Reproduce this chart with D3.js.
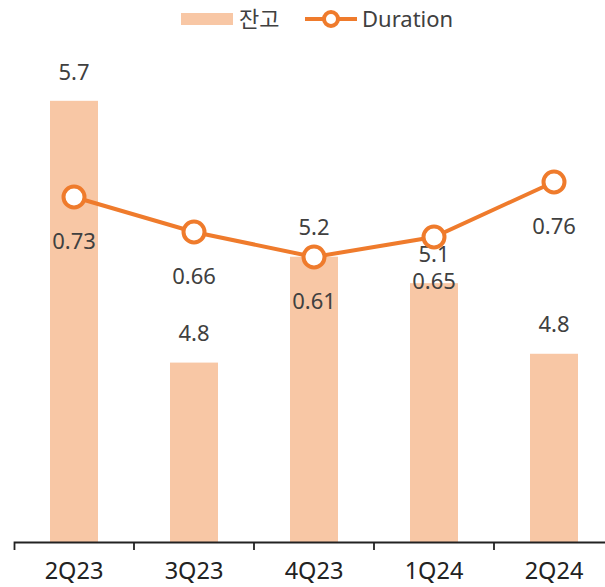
<!DOCTYPE html>
<html>
<head>
<meta charset="utf-8">
<script src="https://cdn.jsdelivr.net/npm/d3@7"></script>
<style>
  body { margin: 0; background: #fff; }
  text { font-family: "Noto Sans", "Noto Sans CJK KR", sans-serif; fill: #404040; }
</style>
</head>
<body>
<div id="chart"></div>
<script>
// Daten
const categories = ["2Q23", "3Q23", "4Q23", "1Q24", "2Q24"]
const balance = [5.70, 4.81, 5.17, 5.08, 4.84]      // 잔고
const duration = [0.73, 0.66, 0.61, 0.65, 0.76]     // Duration

const width = 605
const height = 587
const margin = {top: 42, right: -9, bottom: 45, left: 14}
const barColor = "#f8c7a5"
const lineColor = "#ef7b2c"

const data = categories.map(function (c, i) {
    return {name: c, bal: balance[i], dur: duration[i]}
})

let svg = d3.select("#chart")
    .append("svg")
    .attr("width", width)
    .attr("height", height)

const baseY = height - margin.bottom

var x = d3.scaleBand()
    .range([margin.left, width - margin.right])
    .paddingInner(0.6)
    .paddingOuter(0.3)
    .domain(categories)

var yBar = d3.scaleLinear()
    .range([baseY, margin.top])
    .domain([4.2, 5.9])

var yLine = d3.scaleLinear()
    .range([baseY, margin.top])
    .domain([0.04, 1.04])

// Balken
svg.selectAll(".bar")
    .data(data)
    .enter().append("rect")
    .attr("class", "bar")
    .attr("x", function (d) { return x(d.name) })
    .attr("y", function (d) { return yBar(d.bal) })
    .attr("width", x.bandwidth())
    .attr("height", function (d) { return baseY - yBar(d.bal) })
    .attr("fill", barColor)

// Achse
var axis = svg.append("g")
    .attr("transform", "translate(0," + baseY + ")")
    .call(d3.axisBottom(x).tickSize(0).tickSizeOuter(8).tickPadding(20))
axis.select(".domain").attr("stroke", "#222").attr("stroke-width", 1.8)
axis.selectAll(".tick text")
    .style("font-size", "23.5px")
    .style("fill", "#222")

// Trennstriche zwischen den Kategorien
axis.selectAll(".sep")
    .data(categories.slice(1))
    .enter().append("line")
    .attr("class", "sep")
    .attr("x1", function (d) { return x(d) - x.step() * x.paddingInner() / 2 })
    .attr("x2", function (d) { return x(d) - x.step() * x.paddingInner() / 2 })
    .attr("y1", 0)
    .attr("y2", 8)
    .attr("stroke", "#222")
    .attr("stroke-width", 1.8)

// Beschriftung Balken
svg.selectAll(".barlabel")
    .data(data)
    .enter().append("text")
    .attr("class", "barlabel")
    .attr("x", function (d) { return x(d.name) + x.bandwidth() / 2 })
    .attr("y", function (d) { return yBar(d.bal) - 29 })
    .attr("dy", "0.35em")
    .attr("text-anchor", "middle")
    .style("font-size", "22px")
    .text(function (d) { return d3.format(".1f")(d.bal) })

// Linie
var line = d3.line()
    .x(function (d) { return x(d.name) + x.bandwidth() / 2 })
    .y(function (d) { return yLine(d.dur) })

svg.append("path")
    .datum(data)
    .attr("d", line)
    .attr("fill", "none")
    .attr("stroke", lineColor)
    .attr("stroke-width", 4)

svg.selectAll(".dot")
    .data(data)
    .enter().append("circle")
    .attr("class", "dot")
    .attr("cx", function (d) { return x(d.name) + x.bandwidth() / 2 })
    .attr("cy", function (d) { return yLine(d.dur) })
    .attr("r", 10.5)
    .attr("fill", "#fff")
    .attr("stroke", lineColor)
    .attr("stroke-width", 4)

svg.selectAll(".linelabel")
    .data(data)
    .enter().append("text")
    .attr("class", "linelabel")
    .attr("x", function (d) { return x(d.name) + x.bandwidth() / 2 })
    .attr("y", function (d) { return yLine(d.dur) + 44 })
    .attr("dy", "0.35em")
    .attr("text-anchor", "middle")
    .style("font-size", "22px")
    .text(function (d) { return d3.format(".2f")(d.dur) })

// Legende
var legend = svg.append("g")
legend.append("rect")
    .attr("x", 181).attr("y", 13)
    .attr("width", 52).attr("height", 12)
    .attr("fill", barColor)
legend.append("text")
    .attr("x", 239).attr("y", 19).attr("dy", "0.35em")
    .style("font-size", "22px")
    .text("잔고")
legend.append("line")
    .attr("x1", 305).attr("x2", 357)
    .attr("y1", 19).attr("y2", 19)
    .attr("stroke", lineColor).attr("stroke-width", 4)
legend.append("circle")
    .attr("cx", 331).attr("cy", 19).attr("r", 7)
    .attr("fill", "#fff")
    .attr("stroke", lineColor).attr("stroke-width", 4)
legend.append("text")
    .attr("x", 362).attr("y", 19).attr("dy", "0.35em")
    .style("font-size", "22px")
    .text("Duration")
</script>
</body>
</html>
